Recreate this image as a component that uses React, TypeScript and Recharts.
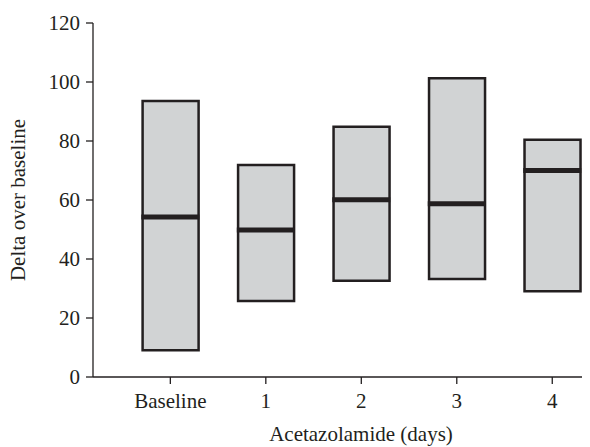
import { ComposedChart, Bar, Scatter, XAxis, YAxis, Label } from "recharts";

const categories = ["Baseline", "1", "2", "3", "4"];
const lowValues = [9.1, 25.8, 32.6, 33.2, 29.1];
const highValues = [93.6, 71.9, 84.8, 101.3, 80.4];
const medianValues = [54.2, 49.8, 60.1, 58.7, 70.0];
const yTicks = [0, 20, 40, 60, 80, 100, 120];

const INK = "#231f20";
const BOX_FILL = "#d1d3d4";
const FONT = "'Liberation Serif', 'Times New Roman', serif";
const BOX_W = 56;

const data = categories.map((c, i) => ({
  day: c,
  range: [lowValues[i], highValues[i]],
  median: medianValues[i],
}));

// thick horizontal bar marking the median
function MedianMark(props: any) {
  const { cx, cy } = props;
  if (cx == null || cy == null) return null;
  return <line x1={cx - BOX_W / 2 - 1} x2={cx + BOX_W / 2 + 1} y1={cy} y2={cy} stroke={INK} strokeWidth={5} />;
}

export default function App() {
  return (
    <div style={{ marginLeft: -8, marginTop: -8, width: 590, height: 447, overflow: "hidden", background: "#fff" }}>
      <ComposedChart width={600} height={447} data={data} margin={{ top: 23, right: 0, bottom: 0, left: 0 }}>
        <XAxis
          dataKey="day"
          height={70}
          padding={{ left: 29.6, right: 0 }}
          axisLine={{ stroke: INK, strokeWidth: 1.3 }}
          tickLine={{ stroke: INK, strokeWidth: 1.3 }}
          tickSize={7}
          tickMargin={9}
          tick={{ fill: INK, fontSize: 21, fontFamily: FONT }}
        >
          <Label
            value="Acetazolamide (days)"
            position="insideBottom"
            offset={6}
            dx={14.5}
            style={{ fill: INK, fontSize: 21, fontFamily: FONT }}
          />
        </XAxis>
        <YAxis
          type="number"
          domain={[0, 120]}
          ticks={yTicks}
          width={93}
          axisLine={{ stroke: INK, strokeWidth: 1.3 }}
          tickLine={{ stroke: INK, strokeWidth: 1.3 }}
          tickSize={7}
          tickMargin={6}
          tick={{ fill: INK, fontSize: 21, fontFamily: FONT }}
        >
          <Label
            value="Delta over baseline"
            angle={-90}
            position="insideLeft"
            offset={18}
            style={{ fill: INK, fontSize: 21, fontFamily: FONT, textAnchor: "middle" }}
          />
        </YAxis>
        <Bar
          dataKey="range"
          barSize={BOX_W}
          fill={BOX_FILL}
          stroke={INK}
          strokeWidth={2.5}
          isAnimationActive={false}
        />
        <Scatter dataKey="median" shape={<MedianMark />} isAnimationActive={false} />
      </ComposedChart>
    </div>
  );
}
